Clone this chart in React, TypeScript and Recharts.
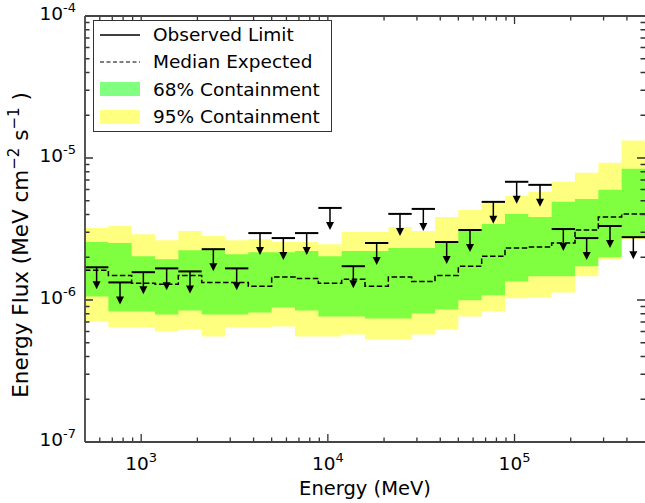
import React from "react";
import {
  ComposedChart,
  Area,
  Line,
  Scatter,
  ErrorBar,
  XAxis,
  YAxis,
  Legend,
  ReferenceLine,
} from "recharts";

const FONT = "'DejaVu Sans', sans-serif";
const AXIS = "#444";

// energy bins (MeV), 8 per decade
const binEdges = [
  500, 667, 889, 1186, 1581, 2109, 2812, 3750, 5000, 6668, 8891, 11857, 15811,
  21085, 28117, 37495, 50000, 66676, 88914, 118569, 158114, 210848, 281171,
  374947, 500000,
];
const binCenters = [
  577, 770, 1027, 1369, 1826, 2435, 3247, 4330, 5774, 7700, 10267, 13692,
  18257, 24346, 32467, 43295, 57735, 76989, 102669, 136905, 182574, 243462,
  324669, 432957,
];

// energy flux (MeV cm^-2 s^-1)
const hi95 = [
  3.21e-6, 3.32e-6, 2.91e-6, 2.64e-6, 3.06e-6, 2.82e-6, 2.64e-6, 2.68e-6,
  2.56e-6, 2.56e-6, 2.47e-6, 3.01e-6, 3.01e-6, 3.26e-6, 3.06e-6, 3.84e-6,
  4.31e-6, 4.91e-6, 5.41e-6, 5.77e-6, 6.8e-6, 7.87e-6, 9.26e-6, 1.33e-5,
];
const hi68 = [
  2.56e-6, 2.52e-6, 2.03e-6, 1.94e-6, 2.24e-6, 2.28e-6, 2.1e-6, 2.17e-6,
  2.17e-6, 2.21e-6, 2.03e-6, 2.21e-6, 2.21e-6, 2.32e-6, 2.32e-6, 2.56e-6,
  3.16e-6, 3.43e-6, 4.04e-6, 3.84e-6, 4.91e-6, 5.15e-6, 5.97e-6, 8.4e-6,
];
const median = [
  1.62e-6, 1.49e-6, 1.31e-6, 1.29e-6, 1.49e-6, 1.33e-6, 1.33e-6, 1.25e-6,
  1.45e-6, 1.42e-6, 1.31e-6, 1.4e-6, 1.25e-6, 1.45e-6, 1.35e-6, 1.49e-6,
  1.73e-6, 2.03e-6, 2.32e-6, 2.36e-6, 2.52e-6, 3.11e-6, 3.84e-6, 4.04e-6,
];
const lo68 = [
  1.06e-6, 8.3e-7, 8.3e-7, 7.91e-7, 8.44e-7, 7.91e-7, 7.91e-7, 8.17e-7,
  8.86e-7, 8.44e-7, 7.65e-7, 7.65e-7, 7.41e-7, 7.41e-7, 8.04e-7, 8.58e-7,
  9.94e-7, 1.08e-6, 1.35e-6, 1.47e-6, 1.47e-6, 1.73e-6, 2.0e-6, 2.77e-6,
];
const lo95 = [
  7.06e-7, 6.4e-7, 6.4e-7, 5.99e-7, 6.19e-7, 5.53e-7, 6.4e-7, 6.4e-7, 6.5e-7,
  5.53e-7, 5.53e-7, 5.71e-7, 5.26e-7, 5.26e-7, 5.71e-7, 6.19e-7, 7.65e-7,
  8.3e-7, 1.03e-6, 1.04e-6, 1.13e-6, 1.47e-6, 1.94e-6, 2.68e-6,
];
const observed = [
  1.7e-6, 1.33e-6, 1.57e-6, 1.67e-6, 1.59e-6, 2.28e-6, 1.67e-6, 2.96e-6,
  2.73e-6, 2.96e-6, 4.45e-6, 1.73e-6, 2.52e-6, 4.04e-6, 4.38e-6, 2.56e-6,
  3.11e-6, 4.91e-6, 6.8e-6, 6.47e-6, 3.16e-6, 2.73e-6, 3.32e-6, 2.77e-6,
];

const xTicks = [
  600, 700, 800, 900, 1000, 2000, 3000, 4000, 5000, 6000, 7000, 8000, 9000,
  10000, 20000, 30000, 40000, 50000, 60000, 70000, 80000, 90000, 100000,
  200000, 300000, 400000,
];
const yTicks = [
  1e-7, 2e-7, 3e-7, 4e-7, 5e-7, 6e-7, 7e-7, 8e-7, 9e-7, 1e-6, 2e-6, 3e-6,
  4e-6, 5e-6, 6e-6, 7e-6, 8e-6, 9e-6, 1e-5, 2e-5, 3e-5, 4e-5, 5e-5, 6e-5,
  7e-5, 8e-5, 9e-5, 1e-4,
];

const legendItems = [
  "Observed Limit",
  "Median Expected",
  "68% Containment",
  "95% Containment",
];

const isMajor = (v: number) =>
  Math.abs(Math.log10(v) - Math.round(Math.log10(v))) < 1e-6;

// tick label only: "10" with the exponent raised
function PowLabel(props: any) {
  const { x, y, payload, side } = props;
  const v = payload.value;
  if (!isMajor(v)) return <g />;
  const exp = Math.round(Math.log10(v));
  if (side === "left")
    return (
      <text x={x - 9} y={y + 4} textAnchor="end" fontFamily={FONT} fontSize={18.5} fill="#000">
        10<tspan dy={-8} fontSize={13}>{exp}</tspan>
      </text>
    );
  return (
    <text x={x} y={y + 28} textAnchor="middle" fontFamily={FONT} fontSize={18.5} fill="#000">
      10<tspan dy={-8} fontSize={13}>{exp}</tspan>
    </text>
  );
}

// inward tick marks at both ends of a reference line
function TickMarks(props: any) {
  const { x1, y1, x2, y2, major } = props;
  const len = major ? 8 : 4.5;
  let d;
  if (x1 === x2) {
    const top = Math.min(y1, y2);
    const bot = Math.max(y1, y2);
    d = `M${x1},${bot}v${-len}M${x1},${top}v${len}`;
  } else {
    const l = Math.min(x1, x2);
    const r = Math.max(x1, x2);
    d = `M${l},${y1}h${len}M${r},${y1}h${-len}`;
  }
  return <path d={d} stroke="#333" strokeWidth={1.3} fill="none" />;
}

function LimitArrow(props: any) {
  const { cx, cy } = props;
  return (
    <g>
      <line x1={cx} y1={cy} x2={cx} y2={cy + 16} stroke="#000" strokeWidth={1.5} />
      <polygon
        points={`${cx - 4},${cy + 14} ${cx + 4},${cy + 14} ${cx},${cy + 22}`}
        fill="#000"
      />
    </g>
  );
}

function swatch(i: number) {
  if (i === 0) return <line x1={1} y1={10} x2={41} y2={10} stroke="#000" strokeWidth={1.5} />;
  if (i === 1)
    return <line x1={1} y1={10} x2={41} y2={10} stroke="#000" strokeWidth={1.2} strokeDasharray="4 2.5" />;
  return <rect x={1} y={3} width={40} height={14} fill={i === 2 ? "#80ff80" : "#ffff80"} />;
}

function LegendBox() {
  return (
    <div
      style={{
        width: 239,
        height: 112,
        boxSizing: "border-box",
        border: "1.5px solid #333",
        background: "#fff",
        fontFamily: FONT,
        fontSize: 18.5,
        color: "#000",
      }}
    >
      {legendItems.map((label, i) => (
        <div key={label} style={{ display: "flex", alignItems: "center", height: 27.3 }}>
          <svg width={54} height={20} style={{ marginLeft: 5 }}>
            {swatch(i)}
          </svg>
          <span style={{ whiteSpace: "nowrap" }}>{label}</span>
        </div>
      ))}
    </div>
  );
}

export default function App() {
  const steps = binEdges.map((e, i) => {
    const j = Math.min(i, binCenters.length - 1);
    return {
      e,
      band95: [lo95[j], hi95[j]],
      band68: [lo68[j], hi68[j]],
      med: median[j],
    };
  });
  const limits = binCenters.map((c, i) => ({
    e: c,
    flux: observed[i],
    xErr: [c - binEdges[i], binEdges[i + 1] - c],
  }));

  return (
    <div style={{ position: "absolute", left: 0, top: 0 }}>
      <ComposedChart
        width={645}
        height={503}
        data={steps}
        margin={{ top: 0, right: 0, bottom: 0, left: 0 }}
      >
        <Area
          xAxisId="b"
          yAxisId="l"
          type="stepAfter"
          dataKey="band95"
          fill="#ffff00"
          fillOpacity={0.5}
          stroke="none"
          isAnimationActive={false}
        />
        <Area
          xAxisId="b"
          yAxisId="l"
          type="stepAfter"
          dataKey="band68"
          fill="#00ff00"
          fillOpacity={0.5}
          stroke="none"
          isAnimationActive={false}
        />
        <Line
          xAxisId="b"
          yAxisId="l"
          type="stepAfter"
          dataKey="med"
          stroke="#000"
          strokeWidth={1.5}
          strokeDasharray="5.5 2.5"
          dot={false}
          isAnimationActive={false}
        />
        <Scatter
          xAxisId="b"
          yAxisId="l"
          data={limits}
          dataKey="flux"
          shape={<LimitArrow />}
          isAnimationActive={false}
        >
          <ErrorBar dataKey="xErr" direction="x" width={0} stroke="#000" strokeWidth={2} />
        </Scatter>
        {xTicks.map((v) => (
          <ReferenceLine
            key={`xt${v}`}
            xAxisId="b"
            yAxisId="l"
            x={v}
            shape={(p: any) => <TickMarks {...p} major={isMajor(v)} />}
          />
        ))}
        {yTicks.map((v) => (
          <ReferenceLine
            key={`yt${v}`}
            xAxisId="b"
            yAxisId="l"
            y={v}
            shape={(p: any) => <TickMarks {...p} major={isMajor(v)} />}
          />
        ))}
        <XAxis
          xAxisId="b"
          dataKey="e"
          type="number"
          scale="log"
          domain={[500, 500000]}
          allowDataOverflow
          ticks={xTicks}
          interval={0}
          height={61}
          tickSize={0}
          tickMargin={0}
          tickLine={false}
          axisLine={{ stroke: AXIS, strokeWidth: 1.8 }}
          tick={(p: any) => <PowLabel {...p} side="bottom" />}
          label={(p: any) => {
            const vb = p.viewBox;
            return (
              <text x={vb.x + vb.width / 2} y={vb.y + 53} textAnchor="middle" fontFamily={FONT} fontSize={19.5} fill="#000">
                Energy (MeV)
              </text>
            );
          }}
        />
        <XAxis
          xAxisId="t"
          orientation="top"
          type="number"
          scale="log"
          domain={[500, 500000]}
          allowDataOverflow
          height={16}
          tick={false}
          tickLine={false}
          axisLine={{ stroke: AXIS, strokeWidth: 1.8 }}
        />
        <YAxis
          yAxisId="l"
          type="number"
          scale="log"
          domain={[1e-7, 1e-4]}
          allowDataOverflow
          ticks={yTicks}
          interval={0}
          width={85}
          tickSize={0}
          tickMargin={0}
          tickLine={false}
          axisLine={{ stroke: AXIS, strokeWidth: 1.8 }}
          tick={(p: any) => <PowLabel {...p} side="left" />}
          label={(p: any) => {
            const vb = p.viewBox;
            const cy = vb.y + vb.height / 2 + 16;
            return (
              <text
                x={28}
                y={cy}
                transform={`rotate(-90 28 ${cy})`}
                textAnchor="middle"
                fontFamily={FONT}
                fontSize={21.5}
                fill="#000"
              >
                Energy Flux (MeV cm
                <tspan dy={-9} fontSize={15}>−2</tspan>
                <tspan dy={9}> s</tspan>
                <tspan dy={-9} fontSize={15}>−1</tspan>
                <tspan dy={9}> )</tspan>
              </text>
            );
          }}
        />
        <YAxis
          yAxisId="r"
          orientation="right"
          type="number"
          scale="log"
          domain={[1e-7, 1e-4]}
          allowDataOverflow
          width={0}
          tick={false}
          tickLine={false}
          axisLine={{ stroke: AXIS, strokeWidth: 1.8 }}
        />
        <Legend
          layout="horizontal"
          verticalAlign="middle"
          align="center"
          wrapperStyle={{ left: 93, top: 20, width: 239 }}
          content={() => <LegendBox />}
        />
      </ComposedChart>
    </div>
  );
}
